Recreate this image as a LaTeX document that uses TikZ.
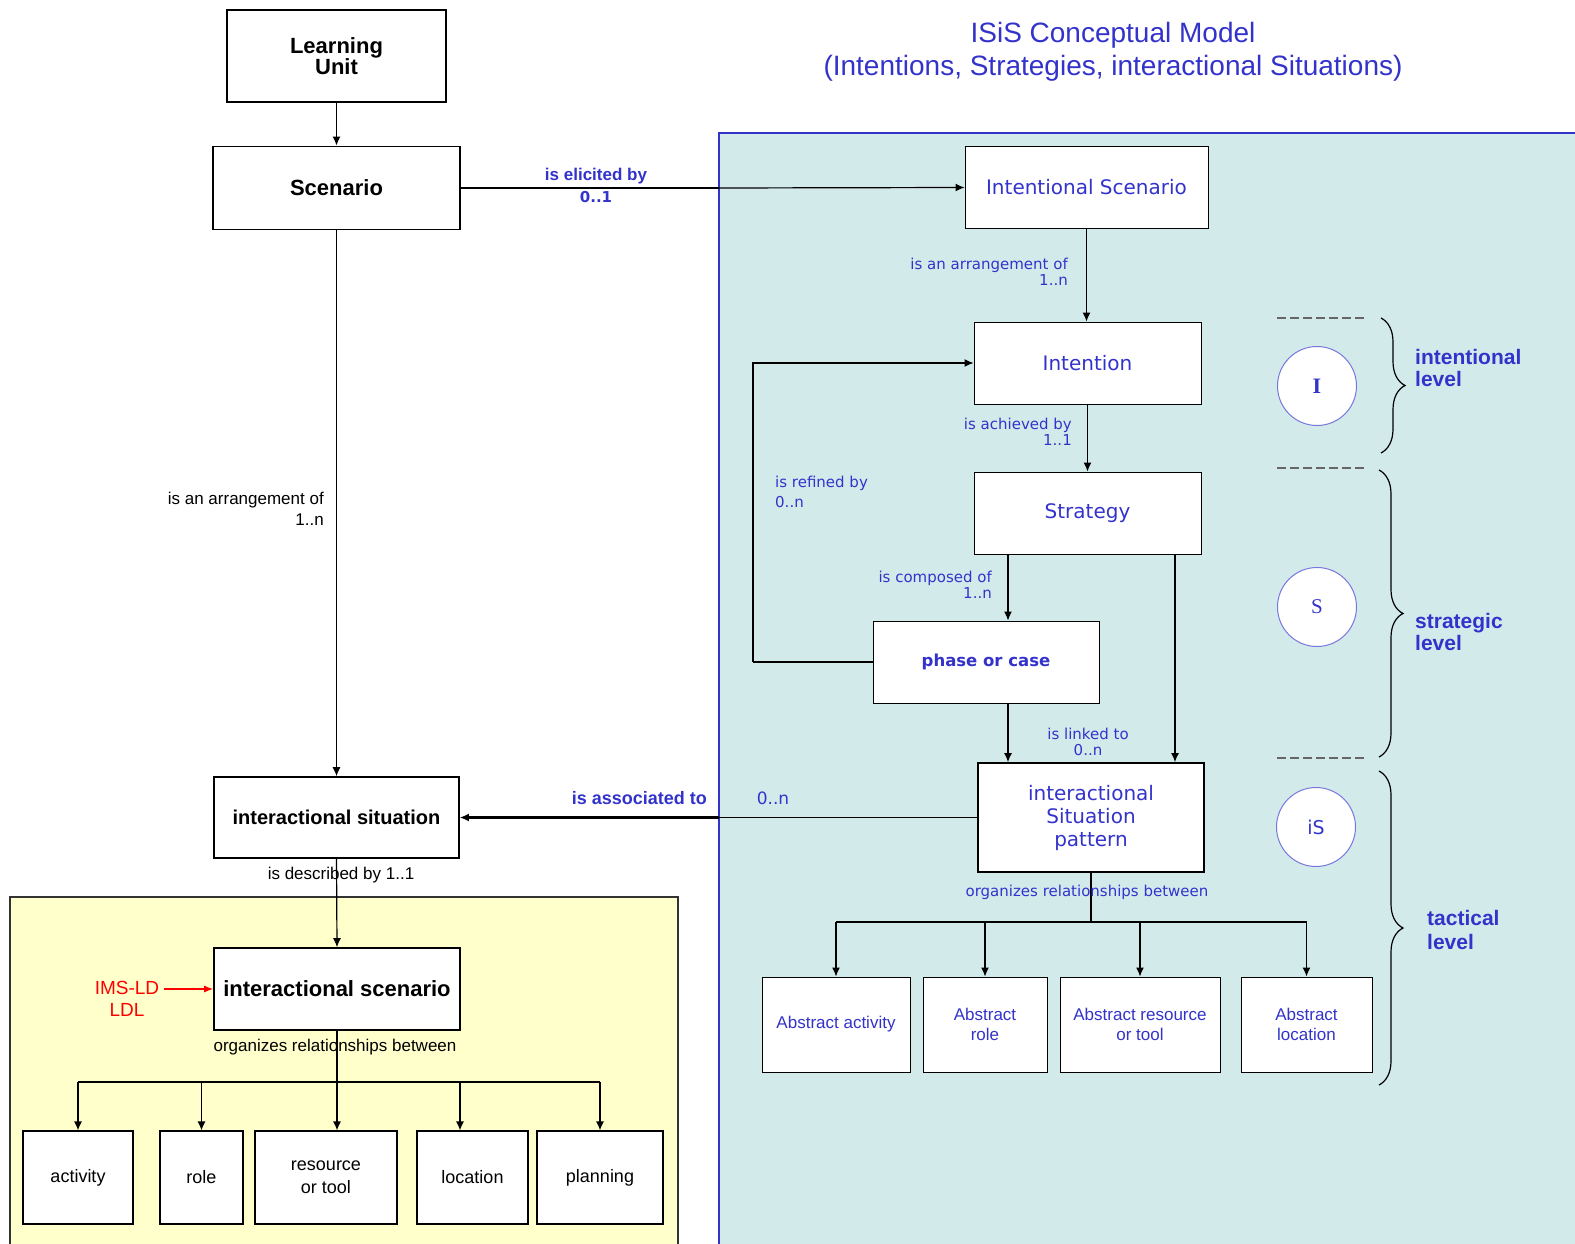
\documentclass[tikz,border=0pt]{standalone}
\usepackage{fontspec}
\setmainfont{Liberation Sans}
\newfontfamily\dvfont{DejaVu Sans}
\newfontfamily\seriffont{Liberation Serif}
\usetikzlibrary{arrows.meta,decorations.pathreplacing}

\definecolor{isisblue}{HTML}{3333CC}
\definecolor{ringblue}{HTML}{7777DD}
\definecolor{cyanpanel}{HTML}{D3EAEB}
\definecolor{yellowpanel}{HTML}{FFFFCC}
\definecolor{dashgray}{HTML}{666666}

\newcommand{\fsz}[2]{\fontsize{#1}{#2}\selectfont}

\tikzset{
  box/.style={draw, line width=1.6pt, fill=white, inner sep=0pt, align=center},
  lbox/.style={box, line width=1.2pt, minimum height=93pt, font=\fsz{18}{23}},
  pbox/.style={draw, line width=1pt, fill=white, inner sep=0pt, align=center,
    text=isisblue, font=\dvfont\fsz{20}{23}, minimum height=82pt},
  abox/.style={pbox, minimum height=95pt, font=\fsz{17}{20}},
  arr/.style={line width=1.2pt, -{Latex[length=9pt,width=8pt]}},
  thickarr/.style={line width=2.4pt, -{Latex[length=9pt,width=8pt]}},
  bluelab/.style={text=isisblue, font=\dvfont\fsz{15}{16}, inner sep=0pt},
  blacklab/.style={font=\fsz{17}{21}, inner sep=0pt},
  ring/.style={circle, draw=ringblue, line width=1pt, fill=white,
    minimum size=79pt, inner sep=0pt, text=isisblue},
  levellabel/.style={text=isisblue, font=\bfseries\fsz{21}{22}, align=left,
    inner sep=0pt, anchor=west},
  levelsep/.style={dashgray, line width=1.5pt, dash pattern=on 9pt off 4pt},
  levelbrace/.style={decorate, decoration={brace, amplitude=24pt}, line width=1.2pt},
}

\begin{document}
\begin{tikzpicture}[x=1pt, y=-1pt]
  \useasboundingbox[fill=white] (0,0) rectangle (1575,1244);
  % panels
  \fill[cyanpanel] (719,133) rectangle (1575,1244);
  \draw[isisblue, line width=1.5pt] (1575,133) -- (719,133) -- (719,1244);
  \fill[yellowpanel] (10,897) rectangle (678,1244);
  \draw[black!80, line width=2pt] (10,1244) -- (10,897) -- (678,897) -- (678,1244);
  \coordinate (edge) at (719,0);

  % title
  \node[text=isisblue, font=\fsz{28}{33}, align=center, inner sep=0pt] (title) at (1113,52)
    {ISiS Conceptual Model\\(Intentions, Strategies, interactional Situations)};

  % left column
  \node[box, minimum width=219pt, minimum height=92pt, font=\bfseries\fsz{22}{21}] (lu) at (336.5,56) {Learning\\Unit};
  \node[box, minimum width=247pt, minimum height=83pt, font=\bfseries\fsz{22}{24}] (scen) at (336.5,188) {Scenario};
  \node[box, minimum width=245pt, minimum height=81pt, font=\bfseries\fsz{20}{24}] (isit) at (336.5,817.5) {interactional situation};
  \node[box, minimum width=246pt, minimum height=82pt, font=\bfseries\fsz{22}{24}] (iscen) at (337,989) {interactional scenario};

  \node[lbox, minimum width=110pt] (act) at (78,1177.5) {activity};
  \node[lbox, minimum width=83pt] (role) at (201.5,1177.5) {role};
  \node[lbox, minimum width=142pt] (res) at (326,1177.5) {resource\\or tool};
  \node[lbox, minimum width=111pt] (loc) at (472.5,1177.5) {location};
  \node[lbox, minimum width=126pt] (plan) at (600,1177.5) {planning};

  % right panel
  \node[pbox, minimum width=243pt, minimum height=81pt] (iscn) at (1086.5,187.5) {Intentional Scenario};
  \node[pbox, minimum width=227pt] (intent) at (1087.5,363) {Intention};
  \node[pbox, minimum width=227pt] (strat) at (1087.5,513) {Strategy};
  \node[pbox, minimum width=226pt, font=\dvfont\bfseries\fsz{16.5}{20}] (phase) at (986,662) {phase or case};
  \node[pbox, line width=1.8pt, minimum width=226pt, minimum height=109pt, font=\dvfont\fsz{20}{23}] (pattern) at (1091,817.5) {interactional\\Situation\\pattern};

  \node[abox, minimum width=148pt] (aact) at (836,1024.5) {Abstract activity};
  \node[abox, minimum width=124pt] (arole) at (985,1024.5) {Abstract\\role};
  \node[abox, minimum width=160pt] (ares) at (1140,1024.5) {Abstract resource\\or tool};
  \node[abox, minimum width=131pt] (aloc) at (1306.5,1024.5) {Abstract\\location};

  % levels
  \draw[levelsep] (1277,318) -- (1367,318);
  \draw[levelsep] (1277,468) -- (1367,468);
  \draw[levelsep] (1277,758) -- (1367,758);
  \draw[levelbrace] (1381,318) -- (1381,453);
  \draw[levelbrace] (1379,470) -- (1379,757);
  \draw[levelbrace] (1379,771) -- (1379,1085);
  \node[ring, font=\seriffont\bfseries\fsz{22}{24}] (ringI) at (1317,386) {I};
  \node[ring, font=\seriffont\fsz{21}{24}] (ringS) at (1317,607) {S};
  \node[ring, font=\dvfont\fsz{19}{22}] (ringiS) at (1316,827) {iS};
  \node[levellabel] (lvlI) at (1415,368) {intentional\\level};
  \node[levellabel] (lvlS) at (1415,632) {strategic\\level};
  \node[levellabel, font=\bfseries\fsz{21}{24}] (lvlT) at (1427,930) {tactical\\level};

  % connectors, left column
  \draw[arr, line width=1.6pt] (lu.south) -- (scen.north);
  \draw[line width=2.4pt] (scen.east) -- (edge |- scen.east);
  \draw[arr] (edge |- scen.east) -- (iscn.west);
  \draw[arr] (scen.south) -- (isit.north);
  \draw[arr] (isit.south) -- (iscen.north);
  \coordinate (bar) at (0,1082);
  \coordinate (locx) at (460,0);
  \draw[line width=1.2pt] (iscen.south) -- (iscen.south |- bar);
  \draw[line width=1.2pt] (act.north |- bar) -- (plan.north |- bar);
  \draw[arr] (act.north |- bar) -- (act.north);
  \draw[arr] (role.north |- bar) -- (role.north);
  \draw[arr] (iscen.south |- bar) -- (iscen.south |- res.north);
  \draw[arr] (locx |- bar) -- (locx |- loc.north);
  \draw[arr] (plan.north |- bar) -- (plan.north);

  % connectors, right panel
  \coordinate (leftx) at (1008,0);
  \coordinate (rightx) at (1175,0);
  \coordinate (loopx) at (753,0);
  \draw[arr] (iscn.south) -- (iscn.south |- intent.north);
  \draw[arr] (intent.south) -- (strat.north);
  \draw[arr] (leftx |- strat.south) -- (leftx |- phase.north);
  \draw[arr] (rightx |- strat.south) -- (rightx |- pattern.north);
  \draw[arr] (leftx |- phase.south) -- (leftx |- pattern.north);
  \draw[line width=2.6pt] (phase.west) -- (loopx |- phase.west);
  \draw[arr] (loopx |- phase.west) -- (loopx |- intent.west) -- (intent.west);
  \draw[line width=1.2pt] (pattern.west) -- (edge |- pattern.west);
  \draw[thickarr] (edge |- pattern.west) -- (isit.east);
  \coordinate (bar2) at (0,922);
  \draw[line width=1.2pt] (pattern.south) -- (pattern.south |- bar2);
  \draw[line width=1.2pt] (aact.north |- bar2) -- (aloc.north |- bar2);
  \draw[arr] (aact.north |- bar2) -- (aact.north);
  \draw[arr] (arole.north |- bar2) -- (arole.north);
  \draw[arr] (ares.north |- bar2) -- (ares.north);
  \draw[arr] (aloc.north |- bar2) -- (aloc.north);

  % labels
  \node[text=isisblue, font=\bfseries\fsz{17}{19}, inner sep=0pt] (elic) at (596,176) {is elicited by};
  \node[text=isisblue, font=\dvfont\bfseries\fsz{15}{17}, inner sep=0pt] (elicm) at (596,197) {0..1};
  \node[bluelab, align=right, anchor=east] (arrI) at (1068,272) {is an arrangement of\\1..n};
  \node[bluelab, align=right, anchor=east] (ach) at (1072,432) {is achieved by\\1..1};
  \node[bluelab, align=left, anchor=west, font=\dvfont\fsz{15}{20}] (refd) at (775,492) {is refined by\\0..n};
  \node[bluelab, align=right, anchor=east] (comp) at (992,585) {is composed of\\1..n};
  \node[bluelab, align=center] (link) at (1088,742) {is linked to\\0..n};
  \node[bluelab] (orgR) at (1087,892) {organizes relationships between};
  \node[text=isisblue, font=\bfseries\fsz{18}{20}, inner sep=0pt, anchor=east] (assoc) at (707,798) {is associated to};
  \node[text=isisblue, font=\dvfont\fsz{17}{19}, inner sep=0pt] (assocm) at (773,798) {0..n};
  \node[blacklab, align=right, anchor=east] (arrS) at (324,509) {is an arrangement of\\1..n};
  \node[blacklab] (desc) at (341,875) {is described by 1..1};
  \node[blacklab] (orgL) at (335,1047) {organizes relationships between};
  \node[text=red, font=\fsz{19}{22}, align=center, inner sep=0pt] (imsld) at (127,999) {IMS-LD\\LDL};
  \coordinate (redx) at (164,0);
  \draw[red, line width=1.2pt, -{Latex[length=9pt,width=7pt]}] (redx |- iscen.west) -- (iscen.west);
\end{tikzpicture}
\end{document}
